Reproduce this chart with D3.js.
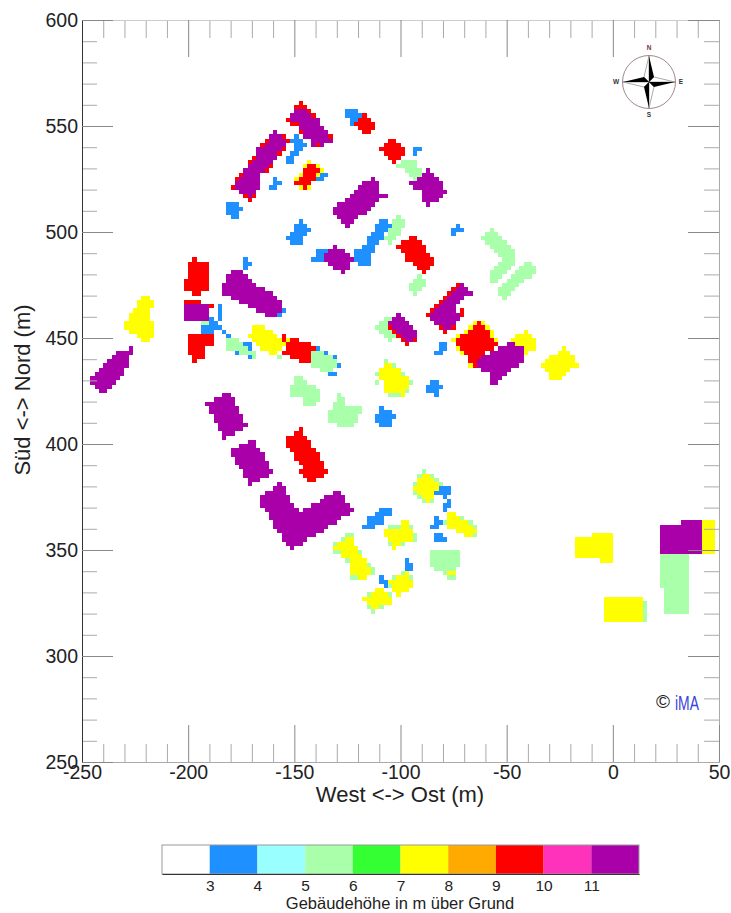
<!DOCTYPE html>
<html>
<head>
<meta charset="utf-8">
<script src="https://cdn.jsdelivr.net/npm/d3@7"></script>
<style>
  body { margin: 0; background: #fff; }
  text { font-family: "Liberation Sans", Arial, sans-serif; fill: #222; }
</style>
</head>
<body>
<div id="chart"></div>
<script>
// colour classes of the legend (building height in m)
var classEdges = [2, 3, 4, 5, 6, 7, 8, 9, 10, 11, 12];
var classColors = ["#ffffff", "#1e90ff", "#99ffff", "#aaffaa", "#33ff33", "#ffff00", "#ffaa00", "#ff0000", "#ff33bb", "#aa00aa"];
var legendTicks = [3, 4, 5, 6, 7, 8, 9, 10, 11];

var xMajor = [-250, -200, -150, -100, -50, 0, 50];
var yMajor = [250, 300, 350, 400, 450, 500, 550, 600];

// building cells: [y, x from, x to], each row is 2 m high
var height3to4 = [
  [544,-150,-148],[542,-152,-146],[540,-150,-144],[538,-150,-146],[536,-152,-148],[534,-154,-150],[532,-154,-150],
  [524,-160,-158],[522,-160,-156],[520,-162,-158],
  [512,-182,-176],[510,-182,-174],[508,-182,-176],[506,-180,-176],
  [504,-148,-146],[502,-150,-144],[500,-150,-142],[498,-152,-144],[496,-154,-146],[494,-152,-146],
  [556,-126,-120],[554,-126,-118],[552,-124,-120],[550,-124,-122],
  [538,-94,-90],[536,-94,-92],
  [526,-138,-134],[524,-140,-136],
  [504,-110,-106],[502,-112,-104],[500,-112,-106],[498,-114,-108],[496,-116,-108],[494,-116,-110],[492,-118,-112],[490,-122,-112],[488,-122,-114],[486,-122,-114],[484,-120,-114],
  [490,-140,-134],[488,-140,-134],[486,-142,-134],
  [486,-174,-172],[484,-174,-170],[482,-174,-172],
  [502,-74,-72],[500,-76,-70],[498,-76,-74],
  [462,-156,-154],[460,-158,-156],
  [464,-186,-184],[462,-186,-184],[460,-186,-184],[458,-186,-184],
  [458,-190,-188],[456,-190,-186],[454,-194,-184],[452,-194,-188],[452,-184,-182],[450,-182,-180],
  [446,-174,-170],[444,-172,-170],[442,-178,-176],[440,-172,-170],
  [444,-140,-138],[442,-136,-134],[440,-132,-130],[436,-130,-128],[432,-134,-130],
  [446,-82,-78],[444,-82,-78],[442,-84,-80],
  [428,-86,-82],[426,-88,-80],[424,-88,-82],[422,-84,-82],
  [416,-110,-108],[414,-110,-104],[412,-112,-102],[410,-112,-104],[408,-110,-104],
  [368,-110,-104],[366,-112,-104],[364,-116,-108],[362,-116,-108],[360,-118,-112],
  [344,-98,-96],[342,-98,-94],[340,-98,-94],
  [336,-110,-108],[334,-110,-106],[332,-108,-106],
  [378,-82,-76],[376,-84,-76],[374,-80,-78],[372,-78,-76],[370,-80,-76],[368,-80,-78],
  [364,-84,-82],[362,-84,-80],[360,-86,-82],[356,-84,-80],[354,-84,-78]
];

var height5to6 = [
  [532,-100,-92],[530,-102,-92],[528,-98,-90],[526,-96,-90],[524,-94,-92],
  [506,-102,-100],[504,-104,-98],[502,-104,-98],[500,-106,-100],[498,-106,-100],[496,-108,-102],[494,-106,-104],
  [500,-58,-56],[498,-60,-54],[496,-62,-52],[494,-60,-50],[492,-58,-48],[490,-56,-46],[488,-54,-46],[486,-52,-46],[484,-54,-46],[482,-56,-48],[480,-58,-50],[478,-58,-52],[476,-58,-54],
  [484,-42,-38],[482,-44,-36],[480,-46,-36],[478,-48,-38],[476,-50,-42],[474,-52,-44],[472,-54,-46],[470,-54,-48],[468,-52,-50],
  [478,-92,-90],[476,-94,-88],[474,-96,-88],[472,-96,-90],[470,-94,-92],
  [458,-108,-104],[456,-110,-104],[454,-112,-104],[452,-110,-104],[450,-108,-102],[448,-106,-104],
  [458,-192,-190],[456,-194,-190],
  [448,-182,-176],[446,-182,-174],[444,-182,-170],[442,-176,-168],[440,-170,-168],
  [442,-142,-134],[440,-142,-132],[438,-142,-130],[436,-142,-130],[434,-138,-132],
  [440,-158,-156],
  [430,-150,-146],[428,-150,-144],[426,-152,-140],[424,-152,-138],[422,-152,-138],[420,-146,-138],[418,-146,-140],
  [438,-108,-106],[436,-104,-102],[432,-112,-110],[432,-100,-98],[428,-112,-110],[428,-96,-94],[424,-98,-96],[422,-106,-100],
  [422,-130,-128],[420,-130,-126],[418,-132,-126],[416,-132,-118],[414,-134,-118],[412,-134,-120],[410,-134,-120],[408,-130,-122],
  [360,-106,-100],[360,-96,-94],[356,-94,-92],[354,-94,-92],[352,-106,-104],[352,-100,-98],
  [356,-126,-122],[354,-128,-126],[352,-132,-130],[348,-132,-128],[348,-120,-118],[344,-126,-124],[342,-116,-114],[340,-114,-112],[338,-114,-112],[336,-124,-120],
  [338,-100,-98],[336,-104,-102],[336,-96,-94],[332,-106,-104],[330,-98,-96],
  [328,-116,-114],[328,-106,-104],[322,-116,-114],[322,-110,-108],[320,-114,-112],
  [386,-90,-88],[384,-92,-90],[384,-86,-84],[382,-84,-82],[380,-94,-92],[380,-82,-80],[376,-94,-92],[374,-92,-90],[372,-90,-88],[372,-86,-84],
  [364,-72,-70],[362,-80,-78],[362,-68,-66],[360,-66,-64],[356,-66,-64],
  [348,-86,-72],[346,-86,-72],[344,-86,-72],[342,-86,-72],[340,-84,-74],[338,-80,-74],[336,-78,-74],
  [346,22,36],[344,22,36],[342,22,36],[340,22,36],[338,22,36],[336,22,36],[334,22,36],[332,22,36],
  [330,24,36],[328,24,36],[326,24,36],[324,24,36],[322,24,36],[320,24,36],
  [324,14,16],[322,14,16],[320,14,16],[318,14,16],[316,14,16]
];

var height7to8 = [
  [532,-144,-142],[530,-146,-144],[530,-140,-138],[528,-138,-136],[526,-148,-146],[526,-140,-138],[524,-150,-148],[520,-148,-146],[520,-144,-142],
  [468,-222,-218],[466,-224,-216],[464,-224,-216],[462,-226,-218],[460,-228,-218],[458,-228,-218],[456,-230,-216],[454,-230,-216],[452,-228,-216],[450,-224,-216],[448,-222,-218],
  [454,-170,-164],[452,-170,-160],[450,-172,-158],[448,-170,-156],[446,-168,-154],[444,-166,-156],[442,-162,-158],[448,-154,-152],
  [456,-66,-64],[456,-62,-60],[454,-68,-66],[454,-60,-58],[452,-70,-68],[452,-58,-56],[450,-74,-72],[450,-58,-56],[448,-76,-74],[448,-56,-54],[444,-74,-72],[442,-72,-70],[436,-68,-66],
  [452,-42,-40],[450,-46,-38],[448,-48,-36],[446,-46,-36],[444,-42,-36],[442,-44,-40],
  [444,-24,-22],[442,-26,-20],[440,-30,-18],[438,-32,-18],[436,-34,-16],[434,-32,-20],[432,-30,-22],[430,-30,-24],
  [436,-108,-104],[434,-110,-100],[432,-110,-100],[430,-110,-96],[428,-108,-96],[426,-108,-96],[424,-108,-98],[422,-100,-98],
  [362,-100,-96],[360,-100,-96],[358,-108,-94],[356,-108,-94],[354,-106,-94],[352,-104,-100],[350,-104,-102],
  [354,-126,-122],[352,-130,-122],[350,-132,-120],[348,-128,-120],[346,-128,-118],[344,-124,-116],[342,-124,-116],[340,-124,-114],[338,-124,-114],[336,-120,-116],
  [338,-98,-96],[336,-102,-96],[334,-106,-94],[332,-104,-94],[330,-104,-96],[328,-102,-100],
  [330,-112,-108],[328,-114,-106],[326,-118,-104],[324,-116,-104],[322,-114,-110],
  [384,-90,-86],[382,-92,-84],[380,-92,-82],[378,-94,-82],[376,-92,-84],[374,-90,-84],[372,-88,-86],
  [366,-78,-74],[364,-78,-72],[362,-78,-68],[360,-78,-66],[358,-74,-64],[356,-70,-66],
  [338,-78,-74],
  [356,-10,0],[354,-18,0],[352,-18,0],[350,-18,0],[348,-18,0],[346,-18,0],[344,-6,0],
  [326,-4,14],[324,-4,14],[322,-4,14],[320,-4,14],[318,-4,14],[316,-4,14],
  [362,42,48],[360,42,48],[358,42,48],[356,42,48],[354,42,48],[352,42,48],[350,42,48],[348,42,48]
];

var height9to10 = [
  [544,-156,-154],[542,-154,-152],[542,-164,-162],[540,-166,-164],[538,-156,-154],[536,-158,-156],[534,-170,-168],[532,-172,-170],[530,-162,-160],[528,-164,-162],[526,-176,-174],[524,-178,-176],[520,-180,-178],[516,-174,-172],[516,-170,-168],[514,-172,-170],
  [560,-148,-146],[558,-150,-144],[556,-144,-142],[554,-142,-140],[552,-154,-152],[550,-152,-148],[546,-148,-146],[544,-134,-132],[540,-140,-138],
  [554,-118,-116],[552,-120,-114],[550,-122,-112],[548,-120,-112],[546,-118,-114],
  [542,-106,-102],[540,-108,-100],[538,-110,-98],[536,-108,-98],[534,-106,-100],[532,-104,-102],
  [530,-144,-140],[528,-146,-138],[526,-146,-140],[524,-148,-140],[522,-150,-142],[520,-146,-144],
  [496,-96,-92],[494,-100,-90],[492,-102,-88],[490,-100,-88],[488,-98,-86],[486,-98,-84],[484,-94,-84],[482,-92,-86],[480,-90,-88],
  [474,-74,-72],[472,-76,-74],[470,-78,-76],[468,-80,-78],[466,-82,-80],[464,-84,-82],[462,-86,-84],[462,-72,-70],[460,-88,-86],[460,-72,-70],[454,-82,-80],[454,-76,-74],[452,-80,-78],
  [454,-106,-104],[452,-104,-102],[450,-102,-100],[448,-100,-98],[448,-94,-92],[446,-98,-96],
  [456,-64,-62],[454,-66,-60],[452,-68,-58],[450,-72,-58],[448,-74,-56],[446,-74,-54],[444,-72,-56],[442,-70,-60],[440,-68,-60],[438,-68,-62],[436,-66,-64],
  [486,-198,-196],[484,-200,-190],[482,-200,-190],[480,-200,-190],[478,-200,-190],[476,-202,-190],[474,-202,-190],[472,-202,-190],[470,-198,-194],
  [466,-202,-194],[464,-190,-188],
  [450,-200,-188],[448,-200,-188],[446,-200,-188],[444,-200,-192],[442,-200,-192],[440,-198,-192],[438,-198,-196],
  [450,-156,-154],[448,-156,-154],[448,-152,-148],[446,-154,-142],[444,-154,-140],[442,-156,-142],[440,-152,-142],[438,-148,-142],
  [406,-148,-146],[404,-150,-146],[402,-154,-144],[400,-154,-142],[398,-154,-142],[396,-152,-140],[394,-150,-138],[392,-150,-138],[390,-148,-136],[388,-146,-136],[386,-148,-134],[384,-146,-136],[382,-144,-140]
];

var height11up = [
  [546,-160,-158],[544,-162,-156],[542,-162,-154],[540,-164,-154],[538,-168,-156],[536,-168,-158],[534,-168,-158],[532,-170,-160],[530,-172,-162],[528,-174,-164],[526,-174,-166],[524,-176,-166],[522,-178,-166],[520,-178,-166],[518,-176,-168],[516,-172,-170],
  [556,-150,-144],[554,-152,-142],[552,-152,-138],[550,-148,-138],[548,-148,-136],[546,-146,-134],[544,-146,-134],[542,-142,-132],[540,-142,-140],[540,-138,-136],
  [528,-88,-86],[526,-90,-84],[524,-92,-82],[522,-96,-80],[520,-94,-80],[518,-90,-78],[516,-90,-80],[514,-90,-82],[512,-88,-86],
  [524,-114,-112],[522,-118,-110],[520,-120,-110],[518,-122,-110],[516,-124,-106],[514,-126,-110],[512,-130,-112],[510,-132,-114],[508,-132,-116],[506,-130,-120],[504,-128,-122],[502,-126,-124],
  [492,-132,-130],[490,-134,-126],[488,-136,-124],[486,-136,-122],[484,-134,-124],[482,-132,-124],[480,-128,-126],
  [480,-180,-174],[478,-182,-172],[476,-182,-170],[474,-184,-168],[472,-184,-164],[470,-184,-160],[468,-180,-158],[466,-176,-156],[464,-172,-156],[462,-168,-156],[460,-164,-158],
  [464,-202,-190],[462,-202,-190],[460,-202,-190],[458,-202,-190],
  [474,-72,-70],[472,-74,-68],[470,-76,-66],[468,-78,-70],[466,-80,-72],[464,-82,-74],[462,-84,-74],[460,-86,-72],[458,-86,-72],[456,-84,-74],[454,-80,-76],
  [460,-102,-100],[458,-104,-98],[456,-106,-96],[454,-104,-94],[452,-102,-92],[450,-100,-92],[448,-98,-94],
  [446,-50,-46],[444,-54,-42],[442,-58,-42],[440,-62,-42],[438,-64,-42],[436,-64,-44],[434,-62,-48],[432,-58,-50],[430,-58,-52],[428,-58,-54],
  [444,-228,-226],[442,-234,-226],[440,-236,-228],[438,-238,-228],[436,-240,-228],[434,-242,-230],[432,-244,-230],[430,-246,-232],[428,-246,-234],[426,-244,-236],[424,-242,-238],
  [422,-184,-180],[420,-188,-178],[418,-192,-178],[416,-190,-176],[414,-190,-176],[412,-188,-174],[410,-188,-174],[408,-186,-172],[406,-186,-174],[404,-184,-178],[402,-184,-182],
  [400,-172,-168],[398,-176,-168],[396,-180,-166],[394,-180,-164],[392,-178,-164],[390,-178,-162],[388,-176,-162],[386,-174,-160],[384,-174,-162],[382,-172,-166],[380,-172,-170],
  [380,-158,-156],[378,-160,-154],[376,-164,-154],[376,-132,-128],[374,-166,-152],[374,-136,-126],[372,-166,-152],[372,-138,-126],[370,-166,-150],[370,-142,-124],[368,-164,-148],[368,-146,-122],[366,-162,-124],[364,-162,-128],[362,-160,-130],[360,-160,-134],[358,-158,-136],[356,-156,-140],[354,-156,-144],[352,-154,-146],[350,-152,-150],
  [362,32,42],[360,22,42],[358,22,42],[356,22,42],[354,22,42],[352,22,42],[350,22,42],[348,22,42]
];

// draw order: later layers sit on top, same as in the picture
var layers = [
  {runs: height5to6, color: classColors[3]},
  {runs: height3to4, color: classColors[1]},
  {runs: height7to8, color: classColors[5]},
  {runs: height9to10, color: classColors[7]},
  {runs: height11up, color: classColors[9]}
];

var svgWidth = 731;
var svgHeight = 913;
var margin = {top: 20, right: 12, bottom: 151, left: 82};
var width = svgWidth - margin.left - margin.right;
var height = svgHeight - margin.top - margin.bottom;

var svg = d3.select("#chart")
  .append("svg")
  .attr("width", svgWidth)
  .attr("height", svgHeight)
  .style("display", "block");

var chartGroup = svg.append("g")
  .attr("transform", `translate(${margin.left}, ${margin.top})`);

var xScale = d3.scaleLinear().domain([-250, 50]).range([0, width]);
var yScale = d3.scaleLinear().domain([250, 600]).range([height, 0]);

// building cells
layers.forEach(function (layer) {
  chartGroup.append("g")
    .selectAll("rect")
    .data(layer.runs)
    .enter()
    .append("rect")
    .attr("x", d => xScale(d[1]))
    .attr("y", d => yScale(d[0] + 2))
    .attr("width", d => xScale(d[2]) - xScale(d[1]))
    .attr("height", d => yScale(d[0]) - yScale(d[0] + 2))
    .attr("fill", layer.color)
    .attr("shape-rendering", "crispEdges");
});

// axes: ticks point inwards on all four sides
var xMinor = d3.range(-250, 51, 10).filter(d => !xMajor.includes(d));
var yMinor = d3.range(250, 601, 10).filter(d => !yMajor.includes(d));
var noLabel = () => "";
var plainLabel = d => String(d); // plain hyphen, not the d3 minus sign

function addAxis(axis, translate, domainColor, tickColor) {
  var g = chartGroup.append("g")
    .attr("transform", translate)
    .call(axis);
  g.selectAll(".tick line").attr("stroke", tickColor);
  g.select(".domain").attr("stroke", domainColor);
  return g;
}

addAxis(d3.axisBottom(xScale).tickValues(xMinor).tickSizeInner(-18).tickSizeOuter(0).tickFormat(noLabel), `translate(0,${height})`, "#aaa", "#aaa");
addAxis(d3.axisTop(xScale).tickValues(xMinor).tickSizeInner(-18).tickSizeOuter(0).tickFormat(noLabel), "translate(0,0)", "#ccc", "#aaa");
addAxis(d3.axisLeft(yScale).tickValues(yMinor).tickSizeInner(-15).tickSizeOuter(0).tickFormat(noLabel), "translate(0,0)", "#333", "#aaa");
addAxis(d3.axisRight(yScale).tickValues(yMinor).tickSizeInner(-15).tickSizeOuter(0).tickFormat(noLabel), `translate(${width},0)`, "#aaa", "#aaa");

addAxis(d3.axisTop(xScale).tickValues(xMajor).tickSizeInner(-37).tickSizeOuter(0).tickFormat(noLabel), "translate(0,0)", "#ccc", "#888");
addAxis(d3.axisRight(yScale).tickValues(yMajor).tickSizeInner(-31).tickSizeOuter(0).tickFormat(noLabel), `translate(${width},0)`, "#aaa", "#888");

var xAxisGroup = addAxis(d3.axisBottom(xScale).tickValues(xMajor).tickSizeInner(-37).tickSizeOuter(0).tickPadding(3).tickFormat(plainLabel), `translate(0,${height})`, "#aaa", "#888");
xAxisGroup.selectAll("text").attr("font-size", 19.5).style("font-family", "Liberation Sans");

var yAxisGroup = addAxis(d3.axisLeft(yScale).tickValues(yMajor).tickSizeInner(-31).tickSizeOuter(0).tickPadding(4).tickFormat(plainLabel), "translate(0,0)", "#333", "#888");
yAxisGroup.selectAll("text").attr("font-size", 19.5).style("font-family", "Liberation Sans");

// axis titles
svg.append("text")
  .attr("x", 400)
  .attr("y", 802)
  .attr("text-anchor", "middle")
  .attr("font-size", 22)
  .text("West <-> Ost (m)");

svg.append("text")
  .attr("transform", "translate(30, 390) rotate(-90)")
  .attr("text-anchor", "middle")
  .attr("font-size", 22)
  .text("Süd <-> Nord (m)");

// compass rose
var compass = svg.append("g").attr("transform", "translate(649, 82)");
compass.append("circle")
  .attr("r", 26.5)
  .attr("fill", "none")
  .attr("stroke", "#8a6a6a")
  .attr("stroke-width", 0.8);
var blackPoints = ["M0,-26L5,-5L0,0Z", "M-26,0L-5,-5L0,0Z", "M0,26L-5,5L0,0Z", "M26,0L5,5L0,0Z"];
var whitePoints = ["M0,-26L-5,-5L0,0Z", "M-26,0L-5,5L0,0Z", "M0,26L5,5L0,0Z", "M26,0L5,-5L0,0Z"];
compass.selectAll("path.white").data(whitePoints).enter().append("path")
  .attr("class", "white").attr("d", d => d)
  .attr("fill", "#fff").attr("stroke", "#555").attr("stroke-width", 0.5);
compass.selectAll("path.black").data(blackPoints).enter().append("path")
  .attr("class", "black").attr("d", d => d)
  .attr("fill", "#000");
var compassLabels = [["N", 0, -32], ["S", 0, 35], ["W", -33, 2], ["E", 32, 2]];
compass.selectAll("text").data(compassLabels).enter().append("text")
  .attr("x", d => d[1])
  .attr("y", d => d[2])
  .attr("text-anchor", "middle")
  .attr("font-size", 6.5)
  .attr("font-weight", "bold")
  .style("fill", d => d[0] == "N" ? "#733" : "#333")
  .text(d => d[0]);

// copyright mark
svg.append("text")
  .attr("x", 656)
  .attr("y", 708)
  .attr("font-size", 19)
  .text("©");
svg.append("text")
  .attr("x", 675)
  .attr("y", 710)
  .attr("font-size", 21)
  .attr("textLength", 24)
  .attr("lengthAdjust", "spacingAndGlyphs")
  .style("fill", "#3a46d8")
  .text("iMA");

// colour bar
var barScale = d3.scaleLinear().domain([2, 12]).range([162, 639]);
var barGroup = svg.append("g");
barGroup.selectAll("rect")
  .data(classColors)
  .enter()
  .append("rect")
  .attr("x", (d, i) => barScale(classEdges[i]))
  .attr("y", 845)
  .attr("width", (d, i) => barScale(classEdges[i + 1]) - barScale(classEdges[i]))
  .attr("height", 29)
  .attr("fill", d => d);
barGroup.append("rect")
  .attr("x", 162)
  .attr("y", 845)
  .attr("width", 477)
  .attr("height", 29)
  .attr("fill", "none")
  .attr("stroke", "#999");

var barAxis = svg.append("g")
  .attr("transform", "translate(0, 874)")
  .call(d3.axisBottom(barScale).tickValues(legendTicks).tickSize(0).tickPadding(6));
barAxis.select(".domain").attr("stroke", "#333");
barAxis.selectAll("text").attr("font-size", 15.5).style("font-family", "Liberation Sans");

svg.append("text")
  .attr("x", 400)
  .attr("y", 909)
  .attr("text-anchor", "middle")
  .attr("font-size", 16.5)
  .text("Gebäudehöhe in m über Grund");
</script>
</body>
</html>
